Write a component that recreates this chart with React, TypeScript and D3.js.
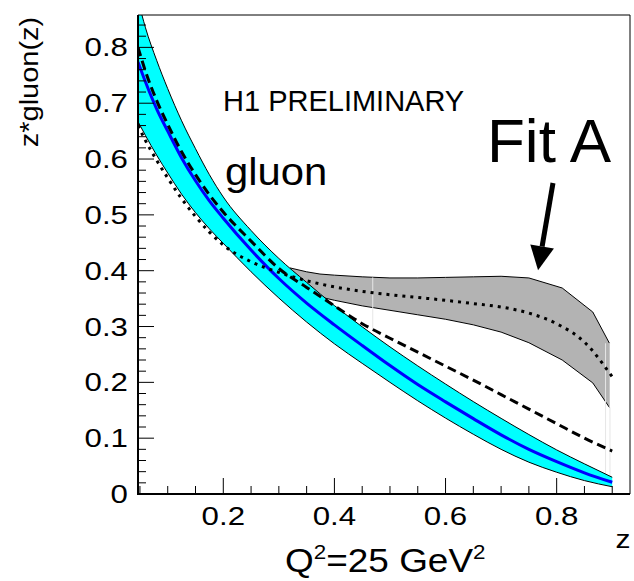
import React from 'react';
import * as d3 from 'd3';

// z grid for the cyan band, central line and the two comparison fits
const Z = [0.0465, 0.06, 0.08, 0.1, 0.125, 0.15, 0.175, 0.2, 0.25, 0.3, 0.35, 0.4, 0.45, 0.5, 0.55, 0.6, 0.65, 0.7, 0.75, 0.8, 0.85, 0.9];
const CENTRAL = [0.774, 0.738, 0.69, 0.65, 0.602, 0.561, 0.525, 0.494, 0.437, 0.386, 0.342, 0.303, 0.266, 0.23, 0.196, 0.165, 0.135, 0.106, 0.08, 0.058, 0.038, 0.021];
const UPPER = [0.885, 0.835, 0.777, 0.726, 0.6685, 0.6185, 0.572, 0.532, 0.472, 0.422, 0.379, 0.3375, 0.2995, 0.2635, 0.2295, 0.197, 0.1655, 0.1355, 0.1065, 0.079, 0.054, 0.03];
const LOWER = [0.667, 0.642, 0.607, 0.575, 0.537, 0.504, 0.475, 0.449, 0.398, 0.351, 0.308, 0.269, 0.234, 0.2, 0.167, 0.136, 0.107, 0.08, 0.057, 0.039, 0.024, 0.013];
const DASHED = [0.8, 0.757, 0.705, 0.662, 0.613, 0.572, 0.536, 0.505, 0.453, 0.404, 0.37, 0.337, 0.305, 0.279, 0.254, 0.229, 0.204, 0.178, 0.152, 0.126, 0.1, 0.077];
const DOTTED = [0.66, 0.633, 0.598, 0.566, 0.529, 0.497, 0.469, 0.446, 0.416, 0.397, 0.382, 0.371, 0.363, 0.357, 0.352, 0.347, 0.341, 0.335, 0.324, 0.305, 0.272, 0.21];

// Fit A grey error band
const ZG = [0.32, 0.35, 0.374, 0.4, 0.45, 0.5, 0.55, 0.6, 0.65, 0.7, 0.75, 0.81, 0.865, 0.895];
const FITA_UPPER = [0.405, 0.398, 0.394, 0.392, 0.389, 0.387, 0.387, 0.388, 0.389, 0.39, 0.387, 0.369, 0.326, 0.27];
const FITA_LOWER = [0.4, 0.37, 0.353, 0.347, 0.337, 0.329, 0.321, 0.313, 0.303, 0.29, 0.271, 0.24, 0.199, 0.155];

const X_TICKS = [0.2, 0.4, 0.6, 0.8];
const X_TICK_LABELS = ['0.2', '0.4', '0.6', '0.8'];
const Y_TICKS = [0, 0.1, 0.2, 0.3, 0.4, 0.5, 0.6, 0.7, 0.8];
const Y_TICK_LABELS = ['0', '0.1', '0.2', '0.3', '0.4', '0.5', '0.6', '0.7', '0.8'];

const FONT = 'Liberation Sans, Arial, Helvetica, sans-serif';

export default function App() {
  const W = 634, H = 581;
  const left = 138, right = 630, top = 15, bottom = 494;
  const x = d3.scaleLinear().domain([0.0465, 0.932]).range([left, right]);
  const y = d3.scaleLinear().domain([0, 0.858]).range([bottom, top]);

  const pts = (vals: number[], zs: number[] = Z) => zs.map((z, i) => [z, vals[i]] as [number, number]);
  const smooth = d3.line<[number, number]>().x(d => x(d[0])).y(d => y(d[1])).curve(d3.curveMonotoneX);
  const poly = d3.line<[number, number]>().x(d => x(d[0])).y(d => y(d[1])).curve(d3.curveLinear);
  const bandArea = (lo: number[], hi: number[], zs: number[], curve: any) =>
    d3.area<number>().x((_, i) => x(zs[i])).y0((_, i) => y(lo[i])).y1((_, i) => y(hi[i])).curve(curve)(zs as any) as string;

  const xMinor: number[] = [];
  for (let v = 0.05; v <= 0.9001; v += 0.05) {
    const r = Math.round(v * 100) / 100;
    if (!X_TICKS.some(t => Math.abs(t - r) < 1e-6)) xMinor.push(r);
  }
  const yMinor: number[] = [];
  for (let v = 0; v <= 0.8401; v += 0.02) {
    const r = Math.round(v * 100) / 100;
    if (!Y_TICKS.some(t => Math.abs(t - r) < 1e-6)) yMinor.push(r);
  }

  // arrow annotation in data coords
  const tail = [0.7934, 0.557];
  const tip = [0.7665, 0.401];
  const tx = x(tail[0]), ty = y(tail[1]), px = x(tip[0]), py = y(tip[1]);
  const dx = px - tx, dy = py - ty, len = Math.hypot(dx, dy);
  const ux = dx / len, uy = dy / len;
  const headL = 24, headW = 12;
  const bx = px - ux * headL, by = py - uy * headL;
  const head = `${px},${py} ${bx - uy * headW},${by + ux * headW} ${bx + uy * headW},${by - ux * headW}`;

  return (
    <svg width={W} height={H} style={{ position: 'absolute', left: 0, top: 0, background: '#fff' }} fontFamily={FONT}>
      <rect x={0} y={0} width={W} height={H} fill="#fff" />
      <defs>
        <clipPath id="plotclip">
          <rect x={left} y={top} width={right - left} height={bottom - top} />
        </clipPath>
      </defs>
      <g clipPath="url(#plotclip)">
        {/* Fit A grey band */}
        <path d={bandArea(FITA_LOWER, FITA_UPPER, ZG, d3.curveLinear)} fill="#b3b3b3" stroke="none" />
        <path d={poly(pts(FITA_UPPER, ZG)) as string} fill="none" stroke="#000" strokeWidth={1} />
        <path d={poly(pts(FITA_LOWER, ZG)) as string} fill="none" stroke="#000" strokeWidth={1} />
        <line x1={x(0.895)} x2={x(0.895)} y1={y(0.27)} y2={y(0.155)} stroke="#c8c8c8" strokeWidth={1} />
        {/* faint seams */}
        <line x1={x(0.469)} x2={x(0.469)} y1={y(0.388)} y2={y(0.295)} stroke="#e6e6e6" strokeWidth={1} />
        <line x1={x(0.888)} x2={x(0.888)} y1={y(0.27)} y2={y(0.015)} stroke="#e6e6e6" strokeWidth={1} />
        <line x1={x(0.896)} x2={x(0.896)} y1={y(0.155)} y2={y(0.015)} stroke="#e6e6e6" strokeWidth={1} />
        {/* cyan band */}
        <path d={bandArea(LOWER, UPPER, Z, d3.curveMonotoneX)} fill="#00ffff" stroke="none" />
        <path d={smooth(pts(UPPER)) as string} fill="none" stroke="#000" strokeWidth={1} />
        <path d={smooth(pts(LOWER)) as string} fill="none" stroke="#000" strokeWidth={1} />
        {/* central fit and comparison fits */}
        <path d={smooth(pts(CENTRAL)) as string} fill="none" stroke="#0000ff" strokeWidth={3} />
        <path d={smooth(pts(DASHED)) as string} fill="none" stroke="#000" strokeWidth={3} strokeDasharray="9 5" />
        <path d={smooth(pts(DOTTED)) as string} fill="none" stroke="#000" strokeWidth={3} strokeDasharray="3 5" />
      </g>

      {/* frame */}
      <line x1={left} x2={right} y1={top} y2={top} stroke="#000" strokeWidth={1} />
      <line x1={right} x2={right} y1={top} y2={bottom} stroke="#000" strokeWidth={1} />
      <line x1={left} x2={left} y1={top} y2={bottom + 1} stroke="#000" strokeWidth={2} />
      <line x1={left - 1} x2={right} y1={bottom} y2={bottom} stroke="#000" strokeWidth={2} />

      {/* y ticks */}
      {Y_TICKS.map(t => (
        <line key={'ym' + t} x1={left} x2={left + 16} y1={y(t)} y2={y(t)} stroke="#000" strokeWidth={1} />
      ))}
      {yMinor.map(t => (
        <line key={'yn' + t} x1={left} x2={left + 8} y1={y(t)} y2={y(t)} stroke="#000" strokeWidth={1} />
      ))}
      {Y_TICKS.map((t, i) => (
        <text key={'yl' + t} transform={`translate(128,${y(t) + 9}) scale(1.25,1)`} textAnchor="end" fontSize={25} fill="#000">
          {Y_TICK_LABELS[i]}
        </text>
      ))}

      {/* x ticks */}
      {X_TICKS.map(t => (
        <line key={'xm' + t} x1={x(t)} x2={x(t)} y1={bottom} y2={bottom - 16} stroke="#000" strokeWidth={1} />
      ))}
      {xMinor.map(t => (
        <line key={'xn' + t} x1={x(t)} x2={x(t)} y1={bottom} y2={bottom - 8} stroke="#000" strokeWidth={1} />
      ))}
      {X_TICKS.map((t, i) => (
        <text key={'xl' + t} transform={`translate(${x(t)},525) scale(1.25,1)`} textAnchor="middle" fontSize={25} fill="#000">
          {X_TICK_LABELS[i]}
        </text>
      ))}

      {/* axis titles */}
      <text transform="translate(623,548) scale(1.2,1)" textAnchor="middle" fontSize={25}>z</text>
      <text transform="translate(285,572) scale(1.12,1)" fontSize={33}>
        Q<tspan dy={-13} fontSize={20}>2</tspan><tspan dy={13}>=25 GeV</tspan><tspan dy={-13} fontSize={20}>2</tspan>
      </text>
      <text transform="translate(38,82) rotate(-90) scale(1.16,1)" textAnchor="middle" fontSize={25}>z*gluon(z)</text>

      {/* annotations */}
      <text x={223} y={111} fontSize={29}>H1 PRELIMINARY</text>
      <text transform="translate(225,185) scale(1.1,1)" fontSize={38}>gluon</text>
      <text x={487} y={162} fontSize={62}>Fit A</text>
      <line x1={tx} y1={ty} x2={bx} y2={by} stroke="#000" strokeWidth={5} />
      <polygon points={head} fill="#000" />
    </svg>
  );
}
